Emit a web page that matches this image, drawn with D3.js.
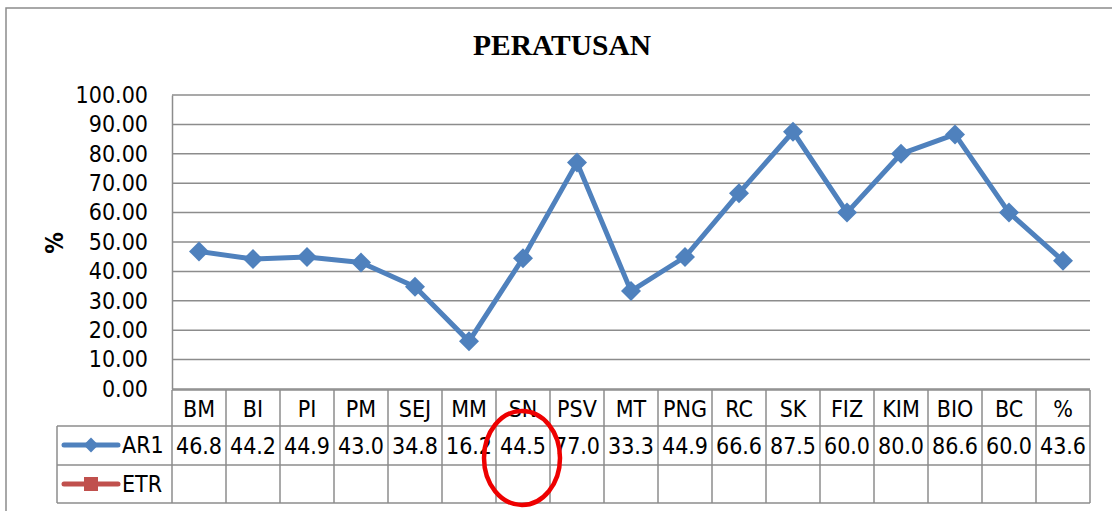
<!DOCTYPE html>
<html>
<head>
<meta charset="utf-8">
<script src="https://cdn.jsdelivr.net/npm/d3@7"></script>
<style>
  body { margin: 0; background: #fff; }
  svg { display: block; }
</style>
</head>
<body>
<svg id="chart"></svg>
<script>
let categories = ['BM', 'BI', 'PI', 'PM', 'SEJ', 'MM', 'SN', 'PSV', 'MT', 'PNG', 'RC', 'SK', 'FIZ', 'KIM', 'BIO', 'BC', '%']
let ar1 = [46.8, 44.2, 44.9, 43.0, 34.8, 16.2, 44.5, 77.0, 33.3, 44.9, 66.6, 87.5, 60.0, 80.0, 86.6, 60.0, 43.6]
let etr = []
let yTicks = [0, 10, 20, 30, 40, 50, 60, 70, 80, 90, 100]
let seriesNames = ['AR1', 'ETR']

let width = 1112
let height = 511
let plotLeft = 172
let plotRight = 1090
let plotTop = 95
let plotBottom = 389
let rowTops = [390, 426, 465, 503]
let legendLeft = 57
let gridColor = '#8c8c8c'
let blue = '#4f81bd'
let red = '#c0504d'
let font = '"DejaVu Sans Condensed", "DejaVu Sans", sans-serif'
let fontSize = 23

let svg = d3.select('#chart')
  .attr('width', width)
  .attr('height', height)

// outer chart border
svg.append('path')
  .attr('d', 'M6,' + height + ' L6,8 L' + width + ',8')
  .attr('fill', 'none')
  .attr('stroke', gridColor)
  .attr('stroke-width', 1.5)

svg.append('text')
  .attr('x', 562)
  .attr('y', 55)
  .attr('text-anchor', 'middle')
  .attr('font-family', '"Liberation Serif", "Times New Roman", serif')
  .attr('font-weight', 'bold')
  .attr('font-size', 29.5)
  .text('PERATUSAN')

let xScale = d3.scaleBand()
  .domain(categories)
  .range([plotLeft, plotRight])
  .padding(0)

let yScale = d3.scaleLinear()
  .domain([0, 100])
  .range([plotBottom, plotTop])

// gridlines
svg.append('g')
  .selectAll('line')
  .data(yTicks)
  .enter()
  .append('line')
  .attr('x1', plotLeft)
  .attr('x2', plotRight)
  .attr('y1', d => yScale(d))
  .attr('y2', d => yScale(d))
  .attr('stroke', gridColor)
  .attr('stroke-width', 1.5)

let yAxis = d3.axisLeft(yScale)
  .tickValues(yTicks)
  .tickFormat(d3.format('.2f'))
  .tickSize(0)
  .tickPadding(24)

let yAxisG = svg.append('g')
  .attr('transform', 'translate(' + plotLeft + ',0)')
  .call(yAxis)
yAxisG.select('.domain').attr('stroke', gridColor).attr('stroke-width', 1.5)
yAxisG.selectAll('text')
  .attr('font-family', font)
  .attr('font-size', fontSize)
  .attr('fill', '#000')

svg.append('text')
  .attr('transform', 'translate(63,243) rotate(-90)')
  .attr('text-anchor', 'middle')
  .attr('font-family', font)
  .attr('font-weight', 'bold')
  .attr('font-size', 24)
  .text('%')

// data table
let table = svg.append('g')
let lineAttrs = sel => sel.attr('stroke', gridColor).attr('stroke-width', 1.5)

table.append('line').call(lineAttrs)
  .attr('x1', plotLeft).attr('x2', plotRight)
  .attr('y1', rowTops[0]).attr('y2', rowTops[0])
rowTops.slice(1).forEach(y => {
  table.append('line').call(lineAttrs)
    .attr('x1', legendLeft).attr('x2', plotRight)
    .attr('y1', y).attr('y2', y)
})
table.append('line').call(lineAttrs)
  .attr('x1', legendLeft).attr('x2', legendLeft)
  .attr('y1', rowTops[1]).attr('y2', rowTops[3])

let colEdges = categories.map(c => xScale(c)).concat([plotRight])
table.selectAll('.col')
  .data(colEdges)
  .enter()
  .append('line')
  .call(lineAttrs)
  .attr('x1', d => d).attr('x2', d => d)
  .attr('y1', rowTops[0]).attr('y2', rowTops[3])

table.selectAll('.cat')
  .data(categories)
  .enter()
  .append('text')
  .attr('x', d => xScale(d) + xScale.bandwidth() / 2)
  .attr('y', 417)
  .attr('text-anchor', 'middle')
  .attr('font-family', font)
  .attr('font-size', fontSize)
  .text(d => d)

table.selectAll('.val')
  .data(ar1)
  .enter()
  .append('text')
  .attr('x', (d, i) => xScale(categories[i]) + xScale.bandwidth() / 2)
  .attr('y', 454)
  .attr('text-anchor', 'middle')
  .attr('font-family', font)
  .attr('font-size', fontSize)
  .text(d => d.toFixed(1))

// legend keys inside the table
let keyY = [445, 484]
let keyColors = [blue, red]
seriesNames.forEach((name, i) => {
  table.append('line')
    .attr('x1', 64).attr('x2', 118)
    .attr('y1', keyY[i]).attr('y2', keyY[i])
    .attr('stroke', keyColors[i])
    .attr('stroke-width', 5)
    .attr('stroke-linecap', 'round')
  if (i === 0) {
    table.append('path')
      .attr('d', d3.symbol().type(d3.symbolSquare).size(110)())
      .attr('transform', 'translate(91,' + keyY[i] + ') rotate(45)')
      .attr('fill', blue)
  } else {
    table.append('rect')
      .attr('x', 84).attr('y', keyY[i] - 7)
      .attr('width', 14).attr('height', 14)
      .attr('fill', red)
  }
  table.append('text')
    .attr('x', 122)
    .attr('y', keyY[i] + 8)
    .attr('font-family', font)
    .attr('font-size', fontSize)
    .text(name)
})

// series line
let line = d3.line()
  .x((d, i) => xScale(categories[i]) + xScale.bandwidth() / 2)
  .y(d => yScale(d))

svg.append('path')
  .datum(ar1)
  .attr('d', line)
  .attr('fill', 'none')
  .attr('stroke', blue)
  .attr('stroke-width', 5)
  .attr('stroke-linejoin', 'round')

svg.selectAll('.marker')
  .data(ar1)
  .enter()
  .append('path')
  .attr('d', d3.symbol().type(d3.symbolSquare).size(200)())
  .attr('transform', (d, i) => 'translate(' + (xScale(categories[i]) + xScale.bandwidth() / 2) + ',' + yScale(d) + ') rotate(45)')
  .attr('fill', blue)

// red annotation circle around SN
svg.append('ellipse')
  .attr('cx', xScale('SN') + xScale.bandwidth() / 2 - 1)
  .attr('cy', 458)
  .attr('rx', 38)
  .attr('ry', 47)
  .attr('fill', 'none')
  .attr('stroke', '#ee0000')
  .attr('stroke-width', 4.5)
</script>
</body>
</html>
